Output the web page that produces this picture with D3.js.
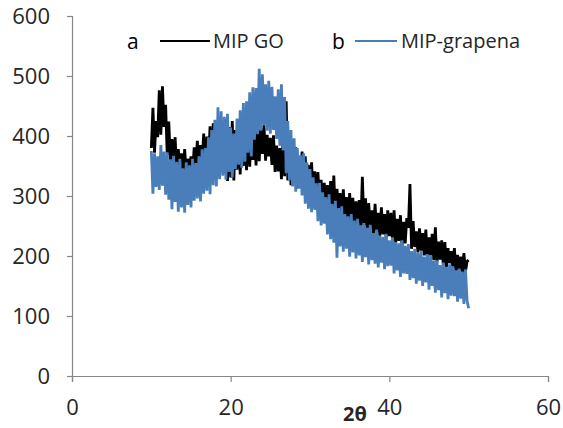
<!DOCTYPE html>
<html><head><meta charset="utf-8">
<script src="https://cdn.jsdelivr.net/npm/d3@7"></script>
<style>
html,body{margin:0;padding:0;background:#fff;}
svg{display:block;}
text{font-family:"Open Sans","Liberation Sans",sans-serif;}
</style></head>
<body>
<svg id="chart" width="563" height="428"></svg>
<script>
// ---- data ----
const xStart = 10, xStep = 0.2;   // 2θ sampling of both series
const xTicks = [0, 20, 40, 60];
const yTicks = [0, 100, 200, 300, 400, 500, 600];
const seriesNames = ["MIP GO", "MIP-grapena"];
const seriesTags = ["a", "b"];
const xLabel = "2θ";

const mipGO = [
 380,447,372,425,398, 476,402,483,415,452, 368,424,358,395,350, 398,338,378,345,371,
 333,378,339,362,345, 366,338,381,352,392, 347,385,356,404,344, 399,352,416,337,421,
 345,412,333,426,341, 411,338,428,325,415, 331,425,326,410,344, 419,336,413,350,406,
 343,420,349,411,360, 405,351,421,358,411, 370,418,359,402,366, 397,352,401,340,384,
 341,380,328,395,333, 458,326,384,318,371, 324,381,313,366,319, 374,306,366,311,352,
 303,356,293,341,299, 340,286,327,292,322, 285,318,276,325,271, 334,268,312,273,305,
 260,311,266,298,255, 305,258,297,250,291, 255,293,247,332,251, 296,243,288,246,276,
 237,287,241,272,233, 281,236,270,229,276, 233,272,224,276,221, 262,225,268,216,257,
 221,263,247,320,212, 258,215,241,206,246, 209,238,201,244,198, 231,201,237,193,248,
 189,224,194,226,185, 223,182,213,188,208, 181,213,172,202,177, 199,168,205,174,191,
 193
];
const mipGrapena = [
 375,304,371,315,366, 310,385,317,374,302, 373,294,361,278,367, 290,357,274,362,281,
 346,272,356,285,351, 281,362,292,355,296, 366,291,378,304,380, 309,398,303,410,318,
 427,316,448,328,441, 334,432,327,437,340, 414,331,404,345,429, 352,443,347,455,357,
 458,372,473,366,481, 394,480,403,512,409, 503,418,486,409,492, 404,482,410,466,395,
 478,384,486,376,465, 338,425,326,410,316, 396,307,380,312,368, 301,371,287,356,279,
 345,273,331,277,321, 258,322,251,306,254, 298,236,303,228,287, 222,292,197,280,216,
 283,207,270,212,266, 199,270,206,259,196, 262,201,251,190,255, 198,247,186,252,193,
 238,187,244,181,234, 189,232,178,237,183, 226,184,231,171,223, 176,221,165,226,171,
 217,170,220,160,208, 163,212,154,205,159, 208,150,199,156,203, 144,201,150,192,139,
 193,143,185,131,189, 138,182,128,186,134, 183,133,176,124,179, 129,174,120,178,125,
 113
];
const colors = ["#000000", "#4a7ebb"];

// ---- drawing ----
const svg = d3.select("#chart");
const x = d3.scaleLinear().domain([0, 60]).range([72, 548]);
const y = d3.scaleLinear().domain([0, 600]).range([376, 16]);
const axisColor = "#868686";
const textColor = "#262626";

const yAxis = svg.append("g").attr("transform", `translate(${x(0)},0)`)
  .call(d3.axisLeft(y).tickValues(yTicks).tickSize(5).tickPadding(17));
const xAxis = svg.append("g").attr("transform", `translate(0,${y(0)})`)
  .call(d3.axisBottom(x).tickValues(xTicks).tickSize(6).tickPadding(17));
[xAxis, yAxis].forEach(g => {
  g.select(".domain").attr("stroke", axisColor).attr("stroke-width", 1.2);
  g.selectAll(".tick line").attr("stroke", axisColor).attr("stroke-width", 1.2);
  g.selectAll(".tick text").attr("fill", textColor)
    .style("font-family", '"Open Sans","Liberation Sans",sans-serif').style("font-size", "22px");
});

const line = d3.line().x((d, i) => x(xStart + i * xStep)).y(d => y(d));
[mipGO, mipGrapena].forEach((s, k) => {
  svg.append("path").datum(s).attr("d", line)
    .attr("fill", "none").attr("stroke", colors[k]).attr("stroke-width", 2.8)
    .attr("stroke-linejoin", "miter").attr("stroke-miterlimit", 2);
});

// x-axis title
svg.append("text").attr("x", 355).attr("y", 421).attr("text-anchor", "middle")
  .attr("fill", textColor).style("font-size", "20px").style("font-weight", "bold")
  .style("font-family", '"Open Sans","Liberation Sans",sans-serif').text(xLabel);

// legend
const legend = [
  {tagX: 127, x1: 160, x2: 210, tx: 213},
  {tagX: 332, x1: 355, x2: 397, tx: 401}
];
legend.forEach((L, k) => {
  svg.append("text").attr("x", L.tagX).attr("y", 49).attr("fill", "#000")
    .style("font-size", "21px").text(seriesTags[k]);
  svg.append("line").attr("x1", L.x1).attr("x2", L.x2).attr("y1", 41).attr("y2", 41)
    .attr("stroke", colors[k]).attr("stroke-width", 2.2);
  svg.append("text").attr("x", L.tx).attr("y", 48).attr("fill", textColor)
    .style("font-size", "20px").text(seriesNames[k]);
});
</script>
</body></html>
